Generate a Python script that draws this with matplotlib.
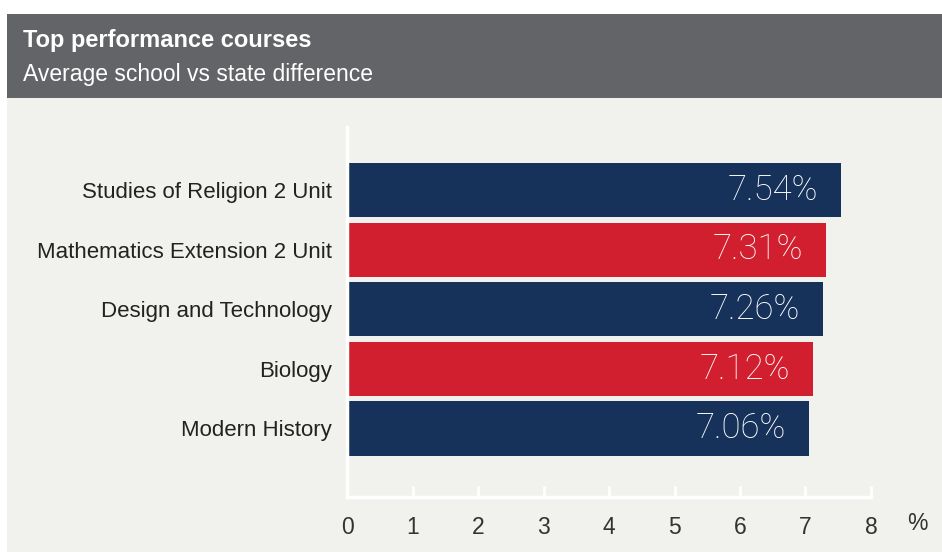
import matplotlib.pyplot as plt
from matplotlib.patches import Rectangle

plt.rcParams['font.family'] = ['Liberation Sans', 'DejaVu Sans']

# data
courses = ['Studies of Religion 2 Unit', 'Mathematics Extension 2 Unit',
           'Design and Technology', 'Biology', 'Modern History']
values = [7.54, 7.31, 7.26, 7.12, 7.06]
colors = ['#17325a', '#d21f30', '#17325a', '#d21f30', '#17325a']
xticks = [0, 1, 2, 3, 4, 5, 6, 7, 8]

W, H = 942, 552
fig = plt.figure(figsize=(W / 100, H / 100), dpi=100)
fig.patch.set_facecolor('white')

# background panels
fig.patches.append(Rectangle((7 / W, 0), 1, (H - 98) / H, transform=fig.transFigure,
                             facecolor='#f1f1ed', edgecolor='none', zorder=0))
fig.patches.append(Rectangle((7 / W, (H - 98) / H), 1, 84 / H, transform=fig.transFigure,
                             facecolor='#636467', edgecolor='none', zorder=0))
fig.text(23 / W, 1 - 40 / H, 'Top performance courses', color='white', fontsize=17,
         fontweight='bold', va='center', ha='left')
fig.text(23 / W, 1 - 74 / H, 'Average school vs state difference', color='white',
         fontsize=16.5, va='center', ha='left')

ax = fig.add_axes([347 / W, (H - 497) / H, (871 - 347) / W, 370 / H], zorder=2)
ax.set_facecolor('none')

ypos = list(range(len(courses)))
ax.barh(ypos, values, height=0.91, color=colors, zorder=2)
for y, v in zip(ypos, values):
    ax.text(v - 0.35, y, f'{v:.2f}%', ha='right', va='center', color='white',
            fontsize=25, fontweight='light', family='Roboto', zorder=3)

ax.set_xlim(0, 8)
ax.set_ylim(len(courses) - 1 + 1.149, -1.057)
ax.set_yticks(ypos)
ax.set_yticklabels(courses, fontsize=16, color='#222222')
ax.set_xticks(xticks)
ax.set_xticklabels([str(t) for t in xticks], fontsize=16.5, color='#333333')
ax.tick_params(axis='y', length=0, pad=11)
ax.tick_params(axis='x', direction='in', length=8, width=2, color='white', pad=14)
for s in ['top', 'right']:
    ax.spines[s].set_visible(False)
for s in ['left', 'bottom']:
    ax.spines[s].set_color('white')
    ax.spines[s].set_linewidth(2.5)
fig.text(917 / W, 1 - 523 / H, '%', fontsize=16.5, color='#333333',
         ha='center', va='center')

fig.savefig('out.png', dpi=100)
